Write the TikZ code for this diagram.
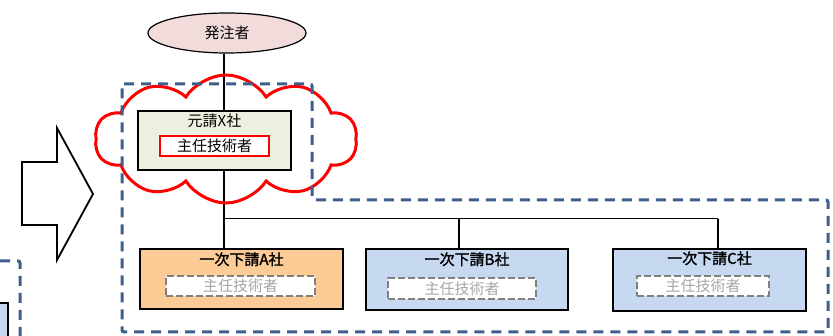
\documentclass[tikz,border=0pt]{standalone}
\usepackage{fontspec}
\setmainfont{Noto Sans CJK JP}
\newfontfamily\jpsemi{Noto Sans CJK JP}[FakeBold=1.6]
\usetikzlibrary{positioning,shapes.geometric,shapes.symbols}
\definecolor{framecol}{HTML}{3E5F8A}
\definecolor{bosspink}{HTML}{F2DCDB}
\definecolor{primegreen}{HTML}{EBF1DE}
\definecolor{peach}{HTML}{FCCB96}
\definecolor{paleblue}{HTML}{C6D9F1}
\definecolor{ghost}{HTML}{A6A6A6}
\tikzset{node distance=2cm,
  jp/.style={font=\fontsize{15pt}{17pt}\selectfont},
  firm/.style={draw,rectangle,line width=1.5pt,inner sep=0pt},
  firmname/.style={jp,inner sep=0pt},
  subname/.style={firmname,font=\fontsize{15pt}{17pt}\selectfont\jpsemi},
  chief/.style={jp,draw=red,line width=2.2pt,fill=white,inner sep=0pt,minimum width=109pt,minimum height=20pt},
  vacant/.style={jp,draw=gray,text=ghost,dash pattern=on 7pt off 3pt,line width=2.2pt,fill=white,inner sep=0pt},
  frame/.style={draw=framecol,line width=3pt,dash pattern=on 10pt off 7pt,rounded corners=2pt},
  link/.style={draw,line width=1.6pt}}

\begin{document}
\begin{tikzpicture}[x=1pt,y=-1pt]
				\clip (0,0) rectangle (833,336);

				\draw[frame] (0,261) -- (20,261) -- (20,345);
				\draw[firm,fill=paleblue] (-10,303) rectangle (8,345);

				\draw[line width=1.8pt,fill=white] (22,162) -- (57,162) -- (57,128) -- (93,194)
					-- (57,260) -- (57,225) -- (22,225) -- cycle;

				\node[ellipse,draw,line width=1.2pt,fill=bosspink,minimum width=158pt,minimum height=40pt,jp] (boss) at (227,33) {発注者};

				\coordinate (trunk) at (224,219);
				\coordinate (tapB) at (459,219);
				\coordinate (tapC) at (718,219);

				\node[firm,fill=peach,minimum width=203pt,minimum height=60pt] (subA) at (241.5,279) {};
				\node[firm,fill=paleblue,minimum width=202pt,minimum height=61pt] (subB) at (467,279.5) {};
				\node[firm,fill=paleblue,minimum width=193pt,minimum height=62pt] (subC) at (709.5,280) {};

				\path[link]
					(boss.south -| trunk) -- (trunk |- subA.north);
				\path[draw,line width=1pt]
					(trunk) -- (tapC);
				\path[link]
					(tapB) -- (tapB |- subB.north)
					(tapC) -- (tapC |- subC.north);

				\node[firm,fill=primegreen,minimum width=153pt,minimum height=59pt] (prime) at (214.5,140.5) {};
				\node[firmname] (primename) at ([yshift=-11pt]prime.north) {元請X社};
				\node[chief] (primechief) at (214.5,146) {主任技術者};

				\node[subname] (subAname) at ([yshift=-11pt]subA.north) {一次下請A社};
				\node[subname] (subBname) at ([yshift=-11pt]subB.north) {一次下請B社};
				\node[subname] (subCname) at ([yshift=-10pt]subC.north) {一次下請C社};

				\node[vacant,minimum width=149pt,minimum height=20pt] (subAchief) at (240.5,286) {主任技術者};
				\node[vacant,minimum width=148pt,minimum height=21pt] (subBchief) at (462,288.5) {主任技術者};
				\node[vacant,minimum width=132pt,minimum height=20pt] (subCchief) at (703,286) {主任技術者};

				\node[cloud,draw=red,line width=3pt,cloud puffs=10,cloud puff arc=115,cloud ignores aspect,
					minimum width=262pt,minimum height=128pt] (haze) at (226,139) {};

				\draw[frame] (122,84) -- (312,84) -- (312,200) -- (828,200) -- (828,332) -- (122,332) -- cycle;
			\end{tikzpicture}
\end{document}
